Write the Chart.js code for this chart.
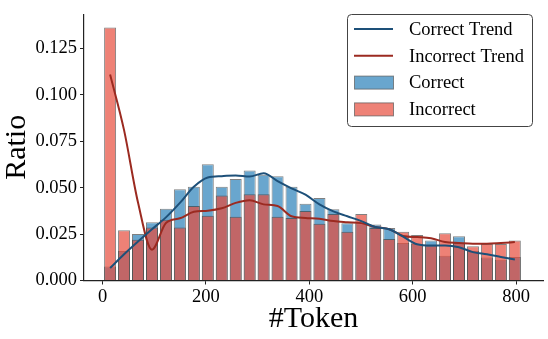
<!DOCTYPE html>
<html>
<head>
<meta charset="utf-8">
<script src="https://cdn.jsdelivr.net/npm/chart.js@4.4.1/dist/chart.umd.min.js"></script>
<style>
  html, body { margin: 0; padding: 0; background: #ffffff; }
  #wrap { width: 548px; height: 339px; position: relative; }
</style>
</head>
<body>
<div id="wrap"><canvas id="chart" width="548" height="339"></canvas></div>
<script>
// bin centres (#Token), one per histogram bar
const binCenters = [14.5, 41.5, 68.5, 95.5, 122.5, 149.5, 176.5, 203.5, 230.5, 257.5,
  284.5, 311.5, 338.5, 365.5, 392.5, 419.5, 446.5, 473.5, 500.5, 527.5,
  554.5, 581.5, 608.5, 635.5, 662.5, 689.5, 716.5, 743.5, 770.5, 797.5];

const correctRatio = [0.0075, 0.0159, 0.0250, 0.0314, 0.0387, 0.0491, 0.0505, 0.0626, 0.0505, 0.0547,
  0.0592, 0.0569, 0.0562, 0.0505, 0.0413, 0.0444, 0.0384, 0.0309, 0.0309, 0.0302,
  0.0283, 0.0202, 0.0196, 0.0216, 0.0133, 0.0238, 0.0159, 0.0124, 0.0112, 0.0127];

const incorrectRatio = [0.1363, 0.0271, 0.0219, 0.0285, 0.0327, 0.0285, 0.0401, 0.0349, 0.0458, 0.0344,
  0.0465, 0.0465, 0.0344, 0.0337, 0.0375, 0.0306, 0.0358, 0.0262, 0.0358, 0.0283,
  0.0224, 0.0262, 0.0245, 0.0188, 0.0254, 0.0202, 0.0185, 0.0197, 0.0197, 0.0216];

const correctTrend = [0.0067, 0.0141, 0.0210, 0.0276, 0.0340, 0.0418, 0.0505, 0.0555, 0.0562, 0.0566,
  0.0560, 0.0578, 0.0535, 0.0496, 0.0462, 0.0410, 0.0372, 0.0346, 0.0320, 0.0288,
  0.0276, 0.0236, 0.0195, 0.0188, 0.0188, 0.0179, 0.0153, 0.0141, 0.0127, 0.0113];

const incorrectTrend = [0.1110, 0.0810, 0.0420, 0.0166, 0.0310, 0.0335, 0.0370, 0.0376, 0.0389, 0.0418,
  0.0432, 0.0410, 0.0401, 0.0346, 0.0337, 0.0332, 0.0320, 0.0314, 0.0309, 0.0288,
  0.0276, 0.0240, 0.0234, 0.0228, 0.0207, 0.0202, 0.0198, 0.0198, 0.0202, 0.0207];

const xTicks = [0, 200, 400, 600, 800];
const yTicks = [0, 0.025, 0.05, 0.075, 0.1, 0.125];

const SERIF = '"Liberation Serif", "Times New Roman", serif';
const BLUE_BAR = 'rgb(105, 166, 206)';
const RED_BAR = 'rgba(231, 76, 60, 0.7)';
const BLUE_LINE = '#1d5079';
const RED_LINE = '#9b2a20';

const pts = (ys) => binCenters.map((x, i) => ({ x: x, y: ys[i] }));

// legend box drawn by hand, matplotlib style
const legendBox = {
  id: 'legendBox',
  afterDraw(chart) {
    const ctx = chart.ctx;
    const x = 347.5, y = 14.5, w = 185, h = 112, r = 4;
    ctx.save();
    ctx.beginPath();
    ctx.roundRect(x, y, w, h, r);
    ctx.fillStyle = 'rgba(255,255,255,0.85)';
    ctx.fill();
    ctx.strokeStyle = '#444';
    ctx.lineWidth = 1;
    ctx.stroke();

    const items = [
      { label: 'Correct Trend', type: 'line', color: BLUE_LINE },
      { label: 'Incorrect Trend', type: 'line', color: RED_LINE },
      { label: 'Correct', type: 'box', color: BLUE_BAR },
      { label: 'Incorrect', type: 'box', color: 'rgb(238, 130, 119)' },
    ];
    ctx.font = '18.5px ' + SERIF;
    ctx.textBaseline = 'middle';
    items.forEach((it, i) => {
      const cy = 29 + i * 26.8;
      if (it.type === 'line') {
        ctx.beginPath();
        ctx.moveTo(354, cy);
        ctx.lineTo(393, cy);
        ctx.strokeStyle = it.color;
        ctx.lineWidth = 2;
        ctx.stroke();
      } else {
        ctx.fillStyle = it.color;
        ctx.fillRect(354.5, cy - 6.5, 39, 13);
        ctx.strokeStyle = 'rgba(90,90,90,0.7)';
        ctx.lineWidth = 1;
        ctx.strokeRect(354.5, cy - 6.5, 39, 13);
      }
      ctx.fillStyle = '#000';
      ctx.fillText(it.label, 409, cy + 1);
    });
    ctx.restore();
  }
};

new Chart(document.getElementById('chart').getContext('2d'), {
  data: {
    datasets: [
      {
        type: 'line',
        label: 'Correct Trend',
        data: pts(correctTrend),
        borderColor: BLUE_LINE,
        borderWidth: 2,
        pointRadius: 0,
        cubicInterpolationMode: 'monotone',
        order: 0,
      },
      {
        type: 'line',
        label: 'Incorrect Trend',
        data: pts(incorrectTrend),
        borderColor: RED_LINE,
        borderWidth: 2,
        pointRadius: 0,
        cubicInterpolationMode: 'monotone',
        order: 0,
      },
      {
        type: 'bar',
        label: 'Incorrect',
        data: pts(incorrectRatio),
        backgroundColor: RED_BAR,
        borderColor: 'rgba(60,60,60,0.65)',
        borderWidth: 1,
        grouped: false,
        barPercentage: 0.86,
        categoryPercentage: 1,
        order: 1,
      },
      {
        type: 'bar',
        label: 'Correct',
        data: pts(correctRatio),
        backgroundColor: BLUE_BAR,
        borderColor: 'rgba(60,60,60,0.65)',
        borderWidth: 1,
        grouped: false,
        barPercentage: 0.86,
        categoryPercentage: 1,
        order: 2,
      },
    ],
  },
  options: {
    responsive: false,
    animation: false,
    layout: { padding: { left: 0, right: 5, top: 4, bottom: 0 } },
    plugins: {
      legend: { display: false },
      tooltip: { enabled: false },
    },
    scales: {
      x: {
        type: 'linear',
        min: -36,
        max: 852,
        offset: false,
        afterFit: (s) => { s.height = 58.5; },
        afterBuildTicks: (s) => { s.ticks = xTicks.map(v => ({ value: v })); },
        border: { display: true, color: '#222', width: 1.2 },
        grid: { offset: false, drawOnChartArea: false, drawTicks: true, tickLength: 4, tickColor: '#222' },
        ticks: {
          color: '#000',
          padding: 2,
          maxRotation: 0,
          font: { family: SERIF, size: 18.5 },
          callback: (v) => String(v),
        },
        title: {
          display: true,
          text: '#Token',
          color: '#000',
          font: { family: SERIF, size: 30 },
          padding: { top: 0, bottom: 2 },
        },
      },
      y: {
        type: 'linear',
        min: 0,
        max: 0.1435,
        afterFit: (s) => { s.width = 84; },
        afterBuildTicks: (s) => { s.ticks = yTicks.map(v => ({ value: v })); },
        border: { display: true, color: '#222', width: 1.2 },
        grid: { offset: false, drawOnChartArea: false, drawTicks: true, tickLength: 4, tickColor: '#222' },
        ticks: {
          color: '#000',
          padding: 3,
          font: { family: SERIF, size: 18.5 },
          callback: (v) => Number(v).toFixed(3),
        },
        title: {
          display: true,
          text: 'Ratio',
          color: '#000',
          font: { family: SERIF, size: 30, lineHeight: 1.15 },
          padding: { top: 0, bottom: 0 },
        },
      },
    },
  },
  plugins: [legendBox],
});
</script>
</body>
</html>
